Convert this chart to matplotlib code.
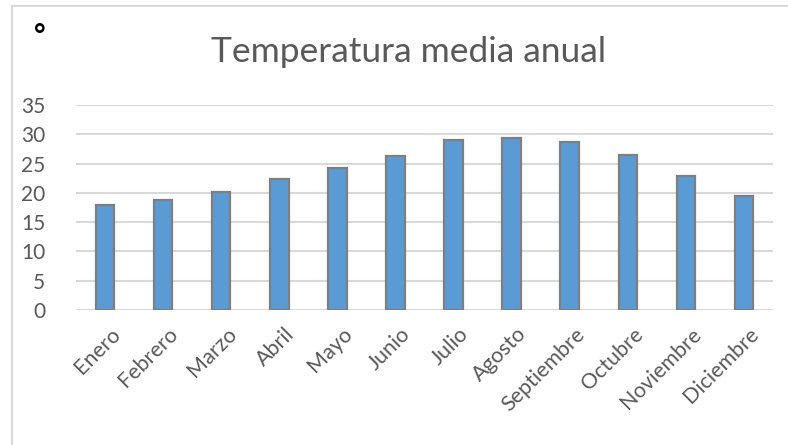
import matplotlib
matplotlib.use('Agg')
import matplotlib.pyplot as plt
from matplotlib.patches import Rectangle
from matplotlib.transforms import ScaledTranslation

months = ['Enero', 'Febrero', 'Marzo', 'Abril', 'Mayo', 'Junio', 'Julio',
          'Agosto', 'Septiembre', 'Octubre', 'Noviembre', 'Diciembre']
temps = [17.9, 18.7, 20.1, 22.3, 24.3, 26.3, 29.0, 29.4, 28.7, 26.5, 22.8, 19.5]
yticks = [0, 5, 10, 15, 20, 25, 30, 35]

plt.rcParams['font.family'] = ['Lato', 'DejaVu Sans']
text_color = '#595959'
grid_color = '#d9d9d9'

fig = plt.figure(figsize=(7.88, 4.45), dpi=100)
ax = fig.add_axes([0.0964, 0.3034, 0.8846, 0.4606])

# chart frame (cut off at right and bottom like the source)
fig.patches.append(Rectangle((12 / 788, -0.1), 1.2, 1 - 6 / 445 + 0.1,
                             transform=fig.transFigure, fill=False,
                             edgecolor=grid_color, linewidth=1.5))

x = range(len(months))
ax.bar(x, temps, width=0.32, color='#5b9bd5', edgecolor='#7f7f7f',
       linewidth=1.6, zorder=3)

ax.set_xlim(-0.5, len(months) - 0.5)
ax.set_ylim(0, 35)
ax.set_yticks(yticks)
ax.yaxis.grid(True, color=grid_color, linewidth=1.5, zorder=0)
ax.tick_params(axis='y', length=0, pad=22, labelsize=15, labelcolor=text_color)
ax.tick_params(axis='x', length=0, labelsize=15.5, labelcolor=text_color)
for s in ax.spines.values():
    s.set_visible(False)

ax.set_xticks(list(x))
ax.set_xticklabels(months, rotation=45, ha='right', va='top',
                   rotation_mode='anchor')
offset = ScaledTranslation(5 / 100, -9 / 100, fig.dpi_scale_trans)
for lab in ax.get_xticklabels():
    lab.set_transform(lab.get_transform() + offset)

fig.text(409 / 788, 1 - 52 / 445, 'Temperatura media anual', fontsize=25.5,
         color=text_color, ha='center', va='center')
fig.text(40 / 788, 1 - 36 / 445, '°', fontsize=20, fontweight='bold',
         color='black', ha='center', va='center')

fig.savefig('out.png', dpi=100)
